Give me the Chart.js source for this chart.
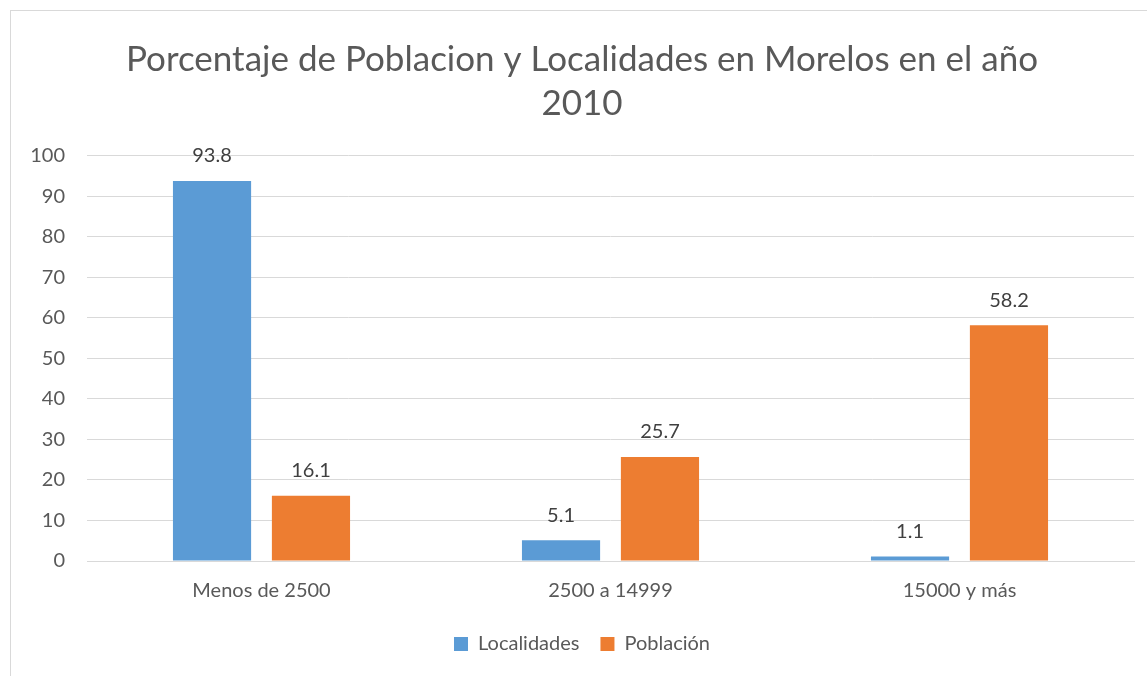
<!DOCTYPE html>
<html>
<head>
<meta charset="utf-8">
<script src="https://cdn.jsdelivr.net/npm/chart.js@4/dist/chart.umd.min.js"></script>
<style>
  html, body { margin: 0; padding: 0; background: #fff; }
  #wrap { width: 1147px; height: 676px; }
</style>
</head>
<body>
<div id="wrap"><canvas id="chart" width="1147" height="676"></canvas></div>
<script>
const categories = ["Menos de 2500", "2500 a 14999", "15000 y más"];
const localidades = [93.8, 5.1, 1.1];
const poblacion = [16.1, 25.7, 58.2];
const seriesNames = ["Localidades", "Población"];
const titleLines = ["Porcentaje de Poblacion y Localidades en Morelos en el año", "2010"];

const FONT = "Lato, 'Open Sans', sans-serif";

// light frame around the chart, like the spreadsheet chart border
const frame = {
    id: "frame",
    beforeDraw(chart) {
        const ctx = chart.ctx;
        ctx.save();
        ctx.strokeStyle = "#d9d9d9";
        ctx.lineWidth = 1;
        ctx.strokeRect(10.5, 10.5, 1300, 800);
        ctx.restore();
    },
};

// value labels above each bar
const valueLabels = {
    id: "valueLabels",
    afterDatasetsDraw(chart) {
        const ctx = chart.ctx;
        ctx.save();
        ctx.font = "20px " + FONT;
        ctx.fillStyle = "#404040";
        ctx.textAlign = "center";
        ctx.textBaseline = "middle";
        chart.data.datasets.forEach((ds, i) => {
            chart.getDatasetMeta(i).data.forEach((bar, j) => {
                ctx.fillText(ds.data[j].toFixed(1), bar.x, bar.y - 25);
            });
        });
        ctx.restore();
    },
};

new Chart(document.getElementById("chart"), {
    type: "bar",
    data: {
        labels: categories,
        datasets: [
            { label: seriesNames[0], data: localidades, backgroundColor: "#5b9bd5" },
            { label: seriesNames[1], data: poblacion, backgroundColor: "#ed7d31" },
        ],
    },
    options: {
        responsive: false,
        animation: false,
        categoryPercentage: 0.567,
        barPercentage: 0.79,
        layout: { padding: { left: 30, right: 13, top: 10, bottom: 12 } },
        scales: {
            x: {
                grid: { display: false },
                border: { color: "#d9d9d9", width: 1 },
                ticks: { color: "#595959", font: { family: FONT, size: 20 }, padding: 10 },
            },
            y: {
                min: 0,
                max: 100,
                afterFit(scale) { scale.width = 57; },
                grid: { color: "#d9d9d9", drawTicks: false },
                border: { display: false },
                ticks: { stepSize: 10, color: "#595959", font: { family: FONT, size: 20 }, padding: 22 },
            },
        },
        plugins: {
            title: {
                display: true,
                text: titleLines,
                color: "#595959",
                font: { family: FONT, size: 35, weight: "normal", lineHeight: 1.27 },
                padding: { top: 27, bottom: 30 },
            },
            legend: {
                position: "bottom",
                labels: {
                    color: "#595959",
                    font: { family: FONT, size: 20 },
                    boxWidth: 14,
                    boxHeight: 14,
                    padding: 21,
                },
            },
            tooltip: { enabled: false },
        },
    },
    plugins: [frame, valueLabels],
});
</script>
</body>
</html>
